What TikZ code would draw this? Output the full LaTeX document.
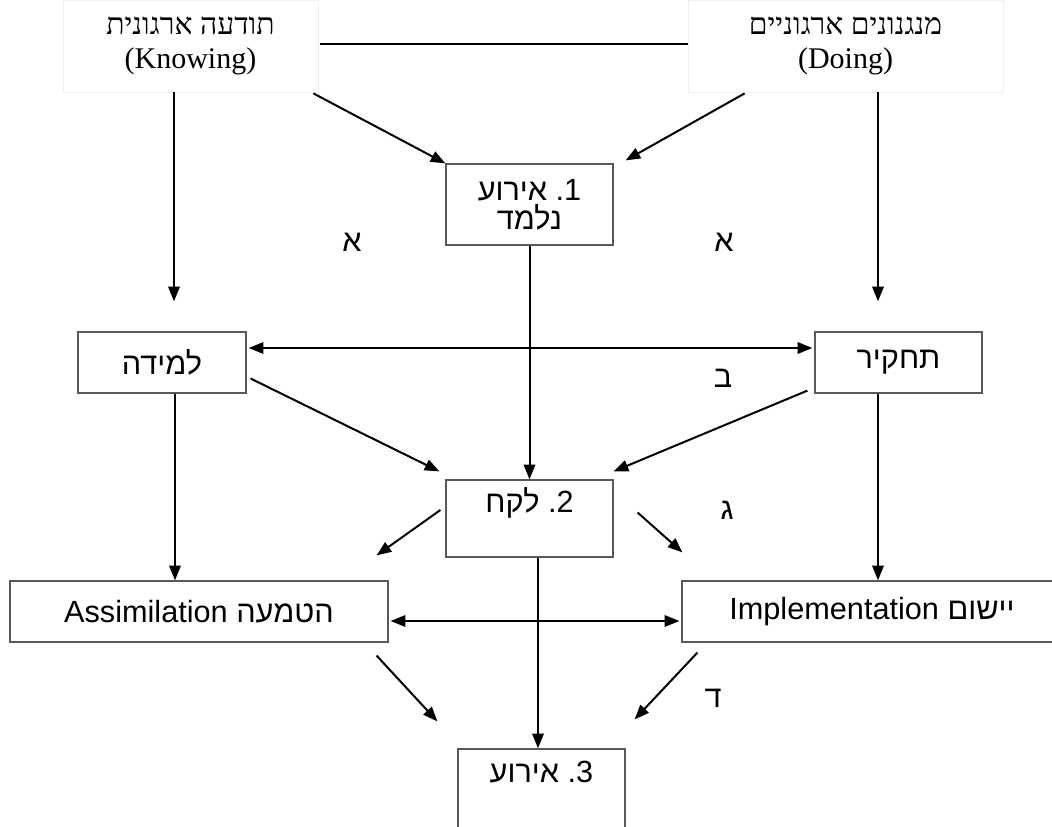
\documentclass[tikz,border=0pt]{standalone}
\usepackage{fontspec}
\setmainfont{Liberation Serif}
\newfontfamily\hsans[Script=Hebrew]{Liberation Sans}
\newfontfamily\lsans{Liberation Sans}
\newfontfamily\hserif[Script=Hebrew]{Liberation Serif}
\TeXXeTstate=1
\usetikzlibrary{arrows.meta,calc}
\newcommand\myrtl[1]{\beginR #1\endR}
\begin{document}
\begin{tikzpicture}[x=0.75pt,y=-0.75pt,
 box/.style={draw=black!65, line width=0.9pt, fill=white, inner sep=0pt, font=\hsans\fontsize{23}{24}\selectfont},
 topbox/.style={draw=black!6, line width=0.6pt, inner sep=0pt, font=\hserif\fontsize{22.5}{26}\selectfont, align=center},
 arr/.style={line width=1.5pt, -{Triangle[length=11pt,width=8.5pt]}},
 darr/.style={line width=1.5pt, {Triangle[length=11pt,width=8.5pt]}-{Triangle[length=11pt,width=8.5pt]}},
 lbl/.style={font=\hsans\fontsize{23}{24}\selectfont, inner sep=0pt}]
\useasboundingbox (0,0) rectangle (1052,827);
\fill[white] (0,0) rectangle (1052,827);
% nodes
\node[topbox, minimum width=191.25pt, minimum height=69pt] (know) at (190.5,46) {\myrtl{תודעה ארגונית}\\(Knowing)};
\node[topbox, minimum width=236.25pt, minimum height=69pt] (doing) at (845.5,46) {\myrtl{מנגנונים ארגוניים}\\(Doing)};
\node[box, align=center, minimum width=125.25pt, minimum height=60.75pt, font=\hsans\fontsize{23}{21.5}\selectfont] (e1) at (529.5,204.5) {\myrtl{אירוע} {\lsans .1}\\\myrtl{נלמד}};
\node[box, minimum width=126pt, minimum height=45.75pt] (lam) at (162,362.5) {\myrtl{למידה}};
\node[box, minimum width=125.25pt, minimum height=45.75pt] (tach) at (898.5,362.5) {\myrtl{תחקיר}};
\node[box, minimum width=125.25pt, text height=24pt, text depth=33.75pt] (e2) at (529.5,518.5) {\myrtl{לקח} {\lsans .2}};
\node[box, minimum width=283.5pt, minimum height=45.75pt] (assim) at (199,611.5) {{\lsans Assimilation} \myrtl{הטמעה}};
\node[box, minimum width=285pt, minimum height=45.75pt] (impl) at (872,611.5) {{\lsans Implementation} \myrtl{יישום}};
\node[box, minimum width=125.25pt, text height=24.75pt, text depth=42.75pt] (e3) at (541.5,794) {\myrtl{אירוע} {\lsans .3}};
% labels
\node[lbl] (la1) at (352,242) {\myrtl{א}};
\node[lbl] (la2) at (724,242) {\myrtl{א}};
\node[lbl] (lb) at (723,378) {\myrtl{ב}};
\node[lbl] (lc) at (727,510) {\myrtl{ג}};
\node[lbl] (ld) at (713,698) {\myrtl{ד}};
% connectors
\draw[line width=1.5pt] ($(know.east)+(2,-2)$) -- ($(doing.west)+(0,-2)$);
\draw[arr] ($(know.south east)+(-5,1)$) -- (e1.north west);
\draw[arr] ($(doing.south west)+(57,1)$) -- ($(e1.north east)+(12,-3)$);
\draw[arr] ($(know.south)+(-16.5,0)$) -- ($(lam.north)+(12,-30)$);
\draw[arr] ($(doing.south)+(32.5,0)$) -- ($(tach.north)+(-20.5,-30)$);
\draw[darr] ($(lam.east)+(2,-14.5)$) -- ($(tach.west)+(-2,-14.5)$);
\draw[arr] (e1.south) -- (e2.north);
\draw[arr] ($(lam.east)+(4,16)$) -- ($(e2.north west)+(-6,-8)$);
\draw[arr] ($(tach.south west)+(-7,-3)$) -- ($(e2.north east)+(0,-8)$);
\draw[arr] ($(lam.south)+(13,0)$) -- ($(assim.north)+(-24,0)$);
\draw[arr] ($(tach.south)+(-20.5,0)$) -- ($(impl.north)+(6,0)$);
\draw[arr] ($(e2.west)+(-5,-8.5)$) -- ($(assim.north east)+(-12,-25)$);
\draw[arr] ($(e2.east)+(24,-6)$) -- ($(impl.north west)+(1,-28)$);
\draw[darr] ($(assim.east)+(2,9.5)$) -- ($(impl.west)+(-2,9.5)$);
\draw[arr] ($(e2.south)+(8.5,0)$) -- ($(e3.north)+(-3.5,0)$);
\draw[arr] ($(assim.south east)+(-12,13)$) -- ($(e3.north west)+(-20,-27)$);
\draw[arr] ($(impl.south west)+(16,10)$) -- ($(e3.north east)+(9,-29)$);
\end{tikzpicture}
\end{document}
